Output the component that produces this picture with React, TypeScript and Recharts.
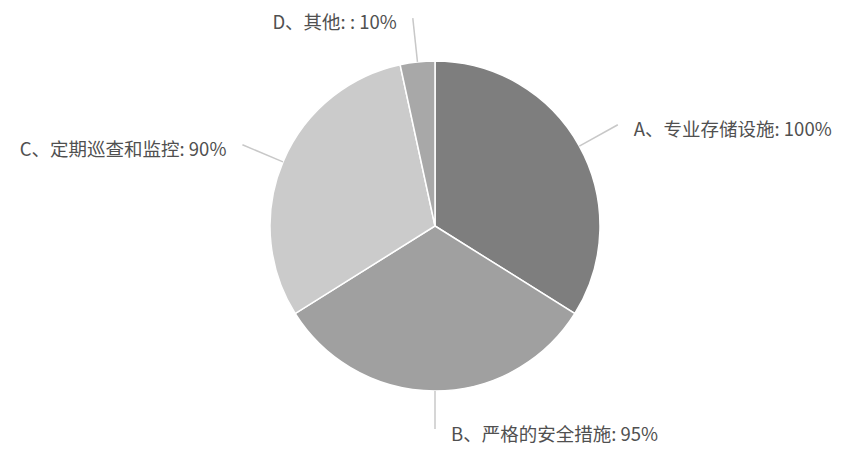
import React from 'react';
import { PieChart, Pie, Cell } from 'recharts';

const categories = ['A、专业存储设施', 'B、严格的安全措施', 'C、定期巡查和监控', 'D、其他: '];
const values = [100, 95, 90, 10];
const colors = ['#7e7e7e', '#a0a0a0', '#cbcbcb', '#a8a8a8'];

const data = categories.map((name, i) => ({ name, value: values[i] }));

const RADIAN = Math.PI / 180;

const renderLabel = (props: any) => {
  const { cx, cy, midAngle, outerRadius, name, value } = props;
  const cos = Math.cos(-midAngle * RADIAN);
  const sin = Math.sin(-midAngle * RADIAN);
  const sx = cx + outerRadius * cos;
  const sy = cy + outerRadius * sin;
  const len = sin > 0.9 ? 38 : 44;
  const ex = cx + (outerRadius + len) * cos;
  const ey = cy + (outerRadius + len) * sin;
  const anchor = cos >= 0 ? 'start' : 'end';
  const tx = ex + (cos >= 0 ? 1 : -1) * 16;
  const ty = ey + (sin > 0.9 ? 4 : 3);
  return (
    <g>
      <path d={`M${sx},${sy}L${ex},${ey}`} stroke="#c8c8c8" strokeWidth={1.5} fill="none" />
      <text x={tx} y={ty} textAnchor={anchor} dominantBaseline="central" fill="#505050" fontSize={18.5}>
        {`${name}: ${value}%`}
      </text>
    </g>
  );
};

export default function App() {
  return (
    <div style={{ position: 'absolute', left: 0, top: 0, width: 841, height: 450, background: '#fff', fontFamily: '"Noto Sans CJK SC", "Noto Sans", sans-serif' }}>
      <PieChart width={841} height={450}>
        <Pie
          data={data}
          dataKey="value"
          nameKey="name"
          cx={430}
          cy={221}
          outerRadius={165}
          startAngle={90}
          endAngle={-270}
          stroke="#ffffff"
          strokeWidth={1.5}
          label={renderLabel}
          labelLine={false}
          isAnimationActive={false}
        >
          {data.map((d, i) => (
            <Cell key={d.name} fill={colors[i]} />
          ))}
        </Pie>
      </PieChart>
    </div>
  );
}
